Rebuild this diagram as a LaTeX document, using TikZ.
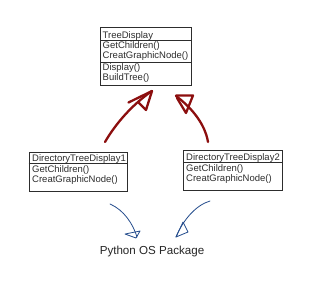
\documentclass[tikz,border=0pt]{standalone}
\usepackage{fontspec}
\setmainfont{Liberation Sans}
\definecolor{arrred}{RGB}{140,14,14}
\definecolor{arrblue}{RGB}{35,75,140}
\definecolor{inkgray}{RGB}{45,45,45}
\begin{document}
\begin{tikzpicture}[x=1pt,y=-1pt,
  umlbox/.style={draw=inkgray, line width=0.9pt, inner sep=0pt, anchor=north west},
  sepline/.style={draw=inkgray, line width=0.8pt},
  txt/.style={anchor=base west, inner sep=0pt, text=inkgray, font=\fontsize{9.5}{10}\selectfont},
  bigtxt/.style={anchor=base, inner sep=0pt, text=black!85, font=\fontsize{11.6}{13}\selectfont},
  redarrow/.style={draw=arrred, line width=2.3pt, line cap=round, line join=round},
  bluearrow/.style={draw=arrblue, line width=0.8pt, line cap=round, line join=round}]
\useasboundingbox[fill=white] (0,0) rectangle (320,287);

% TreeDisplay
\node[umlbox, minimum width=91pt, minimum height=58pt] (td) at (100,27) {};
\draw[sepline] (100,40.5) -- (191,40.5);
\draw[sepline] (100,62) -- (191,62);
\node[txt] (tdt) at (102.5,38) {TreeDisplay};
\node[txt] (td1) at (102.5,48.5) {GetChildren()};
\node[txt] (td2) at (102.5,58.5) {CreatGraphicNode()};
\node[txt] (td3) at (102.5,70) {Display()};
\node[txt] (td4) at (102.5,80.5) {BuildTree()};

% DirectoryTreeDisplay1
\node[umlbox, minimum width=98pt, minimum height=38.5pt] (d1) at (28.5,152.3) {};
\draw[sepline] (28.5,163.5) -- (126.5,163.5);
\node[txt] (d1t) at (32,161) {DirectoryTreeDisplay1};
\node[txt] (d11) at (32,172.3) {GetChildren()};
\node[txt] (d12) at (32,182.7) {CreatGraphicNode()};

% DirectoryTreeDisplay2
\node[umlbox, minimum width=98.5pt, minimum height=40.5pt] (d2) at (183,149.5) {};
\draw[sepline] (183,162.8) -- (281.5,162.8);
\node[txt] (d2t) at (186,160) {DirectoryTreeDisplay2};
\node[txt] (d21) at (186,171.2) {GetChildren()};
\node[txt] (d22) at (186,181.7) {CreatGraphicNode()};

% Python OS Package
\node[bigtxt] (py) at (152,254) {Python OS Package};

% red inheritance arrows (hand drawn)
\coordinate (r1s) at (105,142);
\coordinate (r1e) at (152,91);
\draw[redarrow] (r1s) .. controls (116,123) and (133,104) .. (r1e);
\draw[redarrow] (128.5,102.5) -- (152,91) -- (146,110) -- (139,103);

\coordinate (r2s) at (208,142);
\coordinate (r2e) at (176,96);
\draw[redarrow] (r2s) .. controls (205,124) and (192,108) .. (r2e);
\draw[redarrow] (176,95.5) -- (193,95.5) -- (186,113) -- (177,98);

% blue dependency arrows (hand drawn)
\coordinate (b1s) at (110,204);
\coordinate (b1e) at (137,237);
\draw[bluearrow] (b1s) .. controls (124,210) and (133,224) .. (b1e);
\draw[bluearrow] (125,234) -- (140,231) -- (136,238) -- cycle;

\coordinate (b2s) at (210,201);
\coordinate (b2e) at (176,237);
\draw[bluearrow] (b2s) .. controls (196,205) and (183,220) .. (b2e);
\draw[bluearrow] (183,222) -- (188,232) -- (176,237) -- cycle;
\end{tikzpicture}
\end{document}
